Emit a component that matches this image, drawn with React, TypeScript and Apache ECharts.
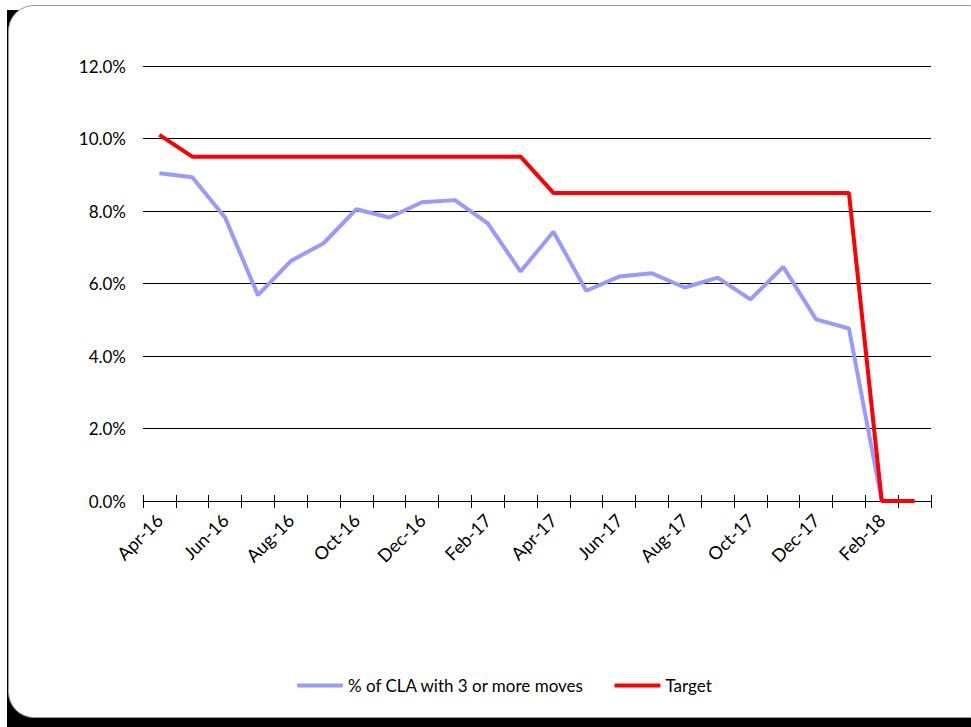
import React, { useEffect, useRef } from "react";
import * as echarts from "echarts";

const categories = [
  "Apr-16", "May-16", "Jun-16", "Jul-16", "Aug-16", "Sep-16", "Oct-16", "Nov-16",
  "Dec-16", "Jan-17", "Feb-17", "Mar-17", "Apr-17", "May-17", "Jun-17", "Jul-17",
  "Aug-17", "Sep-17", "Oct-17", "Nov-17", "Dec-17", "Jan-18", "Feb-18", "Mar-18",
];

const claMoves = [
  9.04, 8.93, 7.82, 5.68, 6.62, 7.11, 8.05, 7.82, 8.24, 8.3, 7.66, 6.33,
  7.43, 5.8, 6.19, 6.28, 5.89, 6.16, 5.56, 6.46, 5.01, 4.76, 0, 0,
];

const target = [
  10.1, 9.5, 9.5, 9.5, 9.5, 9.5, 9.5, 9.5, 9.5, 9.5, 9.5, 9.5,
  8.5, 8.5, 8.5, 8.5, 8.5, 8.5, 8.5, 8.5, 8.5, 8.5, 0, 0,
];

const seriesNames = ["% of CLA with 3 or more moves", "Target"];

const FONT = "Lato, 'Open Sans', sans-serif";

export default function App() {
  const ref = useRef<HTMLDivElement>(null);

  useEffect(() => {
    if (!ref.current) return;
    const chart = echarts.init(ref.current, undefined, { renderer: "svg" });
    chart.setOption({
      animation: false,
      backgroundColor: "transparent",
      textStyle: { fontFamily: FONT },
      grid: { left: 143, right: 40, top: 66, bottom: 226, containLabel: false },
      legend: {
        left: 292,
        top: 672,
        itemWidth: 46,
        itemHeight: 4,
        itemGap: 30,
        icon: "roundRect",
        textStyle: { fontFamily: FONT, fontSize: 17, color: "#000" },
        data: seriesNames,
      },
      xAxis: [
        {
          type: "category",
          data: categories,
          boundaryGap: true,
          position: "bottom",
          axisLine: { lineStyle: { color: "#000", width: 1 } },
          axisTick: { show: true, inside: false, length: 7, interval: 0, lineStyle: { color: "#000", width: 1 } },
          axisLabel: {
            interval: 1,
            rotate: 45,
            margin: 16,
            fontFamily: FONT,
            fontSize: 18,
            color: "#000",
          },
          splitLine: { show: false },
        },
        {
          type: "category",
          data: categories,
          boundaryGap: true,
          position: "bottom",
          offset: 0,
          axisLine: { show: false },
          axisTick: { show: true, inside: true, length: 6, interval: 0, lineStyle: { color: "#000", width: 1 } },
          axisLabel: { show: false },
          splitLine: { show: false },
        },
      ],
      yAxis: {
        type: "value",
        min: 0,
        max: 12,
        interval: 2,
        axisLine: { show: false },
        axisTick: { show: false },
        axisLabel: {
          margin: 17,
          fontFamily: FONT,
          fontSize: 17,
          color: "#000",
          formatter: (v: number) => v.toFixed(1) + "%",
        },
        splitLine: { lineStyle: { color: "#000", width: 1 } },
      },
      series: [
        {
          name: seriesNames[0],
          type: "line",
          xAxisIndex: 0,
          data: claMoves,
          symbol: "none",
          lineStyle: { color: "#9999FF", width: 4 },
          itemStyle: { color: "#9999FF" },
          z: 2,
        },
        {
          name: seriesNames[1],
          type: "line",
          xAxisIndex: 0,
          data: target,
          symbol: "none",
          lineStyle: { color: "#FF0000", width: 4 },
          itemStyle: { color: "#FF0000" },
          z: 3,
        },
      ],
    });
    return () => chart.dispose();
  }, []);

  return (
    <div
      style={{
        position: "fixed",
        left: 0,
        top: 0,
        width: 971,
        height: 727,
        overflow: "hidden",
        background: "#fff",
      }}
    >
      <div
        style={{
          position: "absolute",
          left: 7,
          top: 10,
          width: 60,
          height: 717,
          background: "#000",
        }}
      />
      <div
        style={{
          position: "absolute",
          left: 7,
          top: 700,
          width: 964,
          height: 27,
          background: "#000",
        }}
      />
      <div
        style={{
          position: "absolute",
          left: 8,
          top: 5,
          width: 985,
          height: 711,
          background: "#fff",
          border: "1px solid #9a9a9a",
          borderRadius: 26,
        }}
      />
      <div ref={ref} style={{ position: "absolute", left: 0, top: 0, width: 971, height: 727 }} />
    </div>
  );
}
